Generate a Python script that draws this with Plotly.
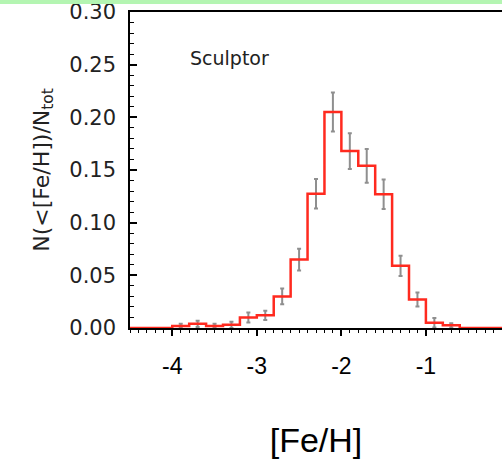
import plotly.graph_objects as go

# Bin centres of [Fe/H] (bin width 0.2 dex)
feh_centers = [-4.7, -4.5, -4.3, -4.1, -3.9, -3.7, -3.5, -3.3, -3.1, -2.9, -2.7, -2.5,
               -2.3, -2.1, -1.9, -1.7, -1.5, -1.3, -1.1, -0.9, -0.7, -0.5, -0.3, -0.1, 0.1]
fraction = [0.0, 0.0, 0.0, 0.0, 0.002, 0.004, 0.002, 0.003, 0.010, 0.012, 0.030, 0.065,
            0.1275, 0.205, 0.168, 0.154, 0.127, 0.059, 0.027, 0.005, 0.0025, 0.0, 0.0, 0.0, 0.0]
errors = [0.0, 0.0, 0.0, 0.0, 0.002, 0.003, 0.002, 0.003, 0.0047, 0.0044, 0.0075, 0.0103,
          0.014, 0.0185, 0.017, 0.016, 0.014, 0.0097, 0.0067, 0.0045, 0.002, 0.0, 0.0, 0.0, 0.0]

y_ticks = [0.00, 0.05, 0.10, 0.15, 0.20, 0.25, 0.30]
x_ticks = [-4, -3, -2, -1]
x_tick_labels = ["-4", "-3", "-2", "-1"]

err_x = [c for c, e in zip(feh_centers, errors) if e > 0]
err_y = [f for f, e in zip(fraction, errors) if e > 0]
err_v = [e for e in errors if e > 0]

fig = go.Figure()
fig.add_trace(go.Scatter(
    x=err_x, y=err_y, mode="markers",
    marker=dict(size=1, color="rgba(0,0,0,0)"),
    error_y=dict(type="data", array=err_v, visible=True, color="#8f8f8f",
                 thickness=2, width=2),
    showlegend=False, hoverinfo="skip",
))
fig.add_trace(go.Scatter(
    x=feh_centers, y=fraction, mode="lines", line_shape="hvh",
    line=dict(color="#ff2a1f", width=2.5),
    showlegend=False,
))

fig.add_annotation(x=-3.32, y=0.256, xref="x", yref="y", text="Sculptor",
                   showarrow=False,
                   font=dict(family="DejaVu Sans", size=19, color="#222222"))

# thin green band at the top of the picture
fig.add_shape(type="rect", xref="paper", yref="paper", x0=-0.4, x1=1.0,
              y0=1.0253, y1=1.04, line=dict(width=0), fillcolor="#b4f5b2",
              layer="above")

fig.update_layout(
    width=502, height=461,
    margin=dict(l=130, r=0, t=12, b=133),
    paper_bgcolor="white", plot_bgcolor="white",
    xaxis=dict(
        range=[-4.5, -0.1], tickvals=x_ticks, ticktext=x_tick_labels,
        ticks="outside", ticklen=6, tickwidth=1.5, tickcolor="black",
        minor=dict(dtick=0.1, ticks="outside", ticklen=3, tickwidth=1.2,
                   tickcolor="black", showgrid=False),
        showline=True, linecolor="black", linewidth=1.5, mirror=True,
        showgrid=False, zeroline=False,
        ticklabelstandoff=11,
        tickfont=dict(family="Liberation Sans", size=23, color="black"),
        title=dict(text="[Fe/H]", standoff=50,
                   font=dict(family="Liberation Sans", size=34, color="black")),
    ),
    yaxis=dict(
        range=[0, 0.30], tickvals=y_ticks, tickformat=".2f",
        ticks="inside", ticklen=7, tickwidth=1.5, tickcolor="black",
        minor=dict(dtick=0.01, ticks="inside", ticklen=4, tickwidth=1.2,
                   tickcolor="black", showgrid=False),
        showline=True, linecolor="black", linewidth=1.5, mirror=False,
        showgrid=False, zeroline=False,
        ticklabelstandoff=8,
        tickfont=dict(family="DejaVu Sans", size=21, color="#222222"),
        title=dict(text="N(&lt;[Fe/H])/N<sub>tot</sub>", standoff=14,
                   font=dict(family="DejaVu Sans", size=22, color="#222222")),
    ),
)

fig.write_html("out.html")
